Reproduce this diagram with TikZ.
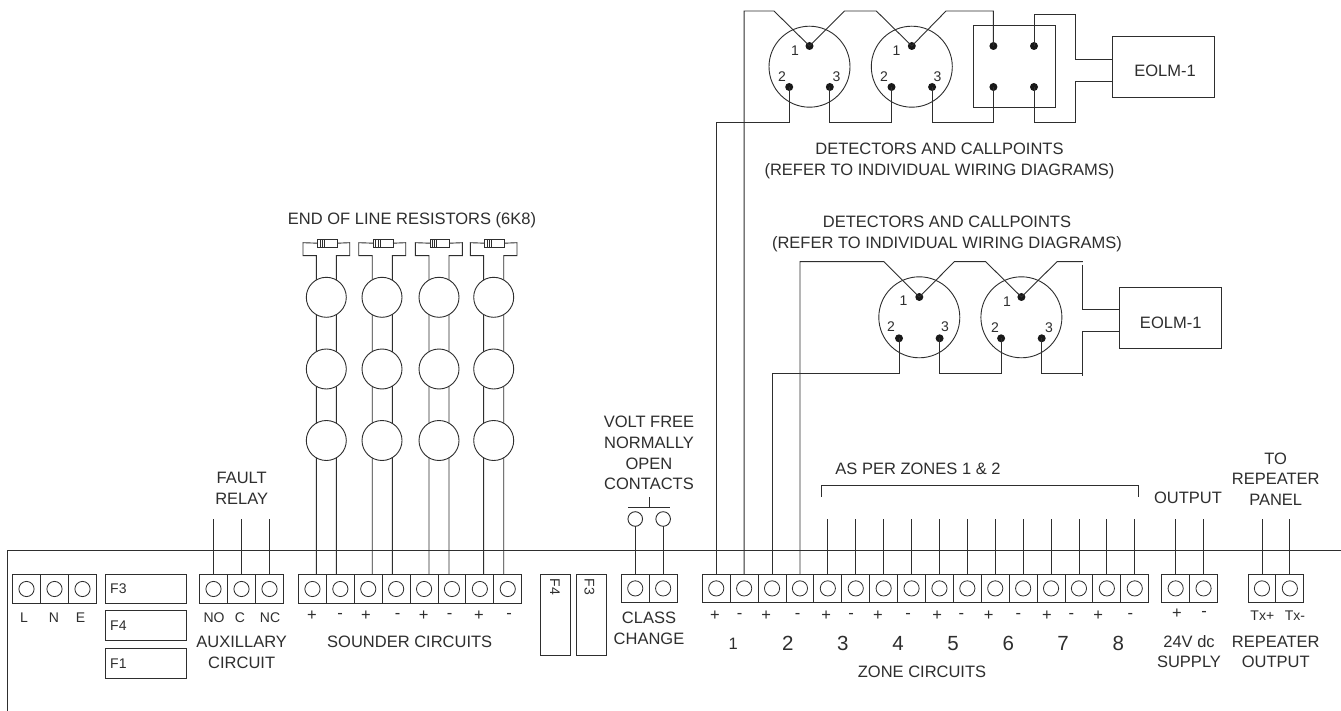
\documentclass[tikz,border=0pt]{standalone}
\usepackage{fontspec}
\setmainfont{Liberation Sans}
\usetikzlibrary{positioning}
\definecolor{ink}{HTML}{2E2E2E}
\tikzset{
	wire/.style={draw=ink, line width=0.9pt},
	cell/.style={
		rectangle, draw=ink, line width=0.9pt,
		minimum width=27.9pt, minimum height=28.4pt, inner sep=0pt, outer sep=0pt,
		path picture={\draw[ink, line width=0.8pt] (path picture bounding box.center) circle (7.6pt);},
	},
	fuse/.style={
		rectangle, draw=ink, line width=0.9pt, inner sep=0pt, outer sep=0pt,
	},
	bell/.style={
		circle, draw=ink, fill=white, line width=0.9pt, minimum size=40pt, inner sep=0pt, outer sep=0pt,
	},
	head/.style={
		circle, draw=ink, line width=0.9pt, minimum size=81pt, inner sep=0pt, outer sep=0pt,
	},
	contact/.style={
		circle, draw=ink, line width=0.9pt, minimum size=14.6pt, inner sep=0pt, outer sep=0pt,
	},
	dot/.style={
		circle, fill=black!90, minimum size=8pt, inner sep=0pt, outer sep=0pt,
	},
	resistor/.style={
		rectangle, draw=ink, fill=white, line width=0.8pt, minimum width=19.6pt, minimum height=7.7pt,
		inner sep=0pt, outer sep=0pt,
		path picture={
			\foreach \b in {2.4,4.6,6.8}
				\draw[ink, line width=0.9pt] ([xshift=\b pt]path picture bounding box.south west) -- ([xshift=\b pt]path picture bounding box.north west);
		},
	},
	txt/.style={text=ink, font=\fontsize{16.5}{20.7}\selectfont, align=center, inner sep=0pt},
	small/.style={text=ink, font=\fontsize{14}{15}\selectfont, inner sep=0pt},
	sign/.style={text=ink, font=\fontsize{16.5}{17}\selectfont, inner sep=0pt},
	num/.style={text=ink, font=\fontsize{20.5}{22}\selectfont, inner sep=0pt},
}
\begin{document}
\begin{tikzpicture}[x=1pt,y=-1pt]
	\useasboundingbox (0,0) rectangle (1341,711);
	\fill[white] (0,0) rectangle (1341,711);

	% housing
	\coordinate (hl) at (7,711);
	\coordinate (hc) at (7,550.3);
	\coordinate (hr) at (1341,550.3);
	\draw[wire] (hl) -- (hc) -- (hr);

	% terminal blocks
	\foreach \i in {1,2,3} \node[cell] (p\i) at ({12.5+(\i-0.5)*28},589) {};
	\foreach \i in {1,2,3} \node[cell] (a\i) at ({199.5+(\i-0.5)*28},589) {};
	\foreach \i in {1,...,8} \node[cell] (s\i) at ({298.5+(\i-0.5)*27.9},589) {};
	\foreach \i in {1,2} \node[cell] (c\i) at ({621.3+(\i-0.5)*27.9},588.4) {};
	\foreach \i in {1,...,16} \node[cell] (z\i) at ({702.3+(\i-0.5)*27.9},588.4) {};
	\foreach \i in {1,2} \node[cell] (v\i) at ({1161.7+(\i-0.5)*27.9},588.4) {};
	\foreach \i in {1,2} \node[cell] (r\i) at ({1248+(\i-0.5)*27.9},588.4) {};

	% fuses
	\node[fuse, minimum width=80.5pt, minimum height=29.3pt] (f3) at (145.7,588.7) {};
	\node[fuse, minimum width=80.5pt, minimum height=29.6pt] (f4) at (145.7,625.5) {};
	\node[fuse, minimum width=80.5pt, minimum height=29.6pt] (f1) at (145.7,663.2) {};
	\node[small, anchor=west] (f3t) at (110,589) {F3};
	\node[small, anchor=west] (f4t) at (110,626) {F4};
	\node[small, anchor=west] (f1t) at (110,664) {F1};
	\node[fuse, minimum width=30pt, minimum height=81pt] (f4b) at (555.3,614.5) {};
	\node[fuse, minimum width=30pt, minimum height=81pt] (f3b) at (591.3,614.5) {};
	\node[small, rotate=-90] (f4bt) at (555,587) {F4};
	\node[small, rotate=-90] (f3bt) at (589.5,587) {F3};

	% wires above the block
	\foreach \i in {1,2,3} {
		\coordinate (at\i) at (a\i.north |- 0,519);
		\draw[wire] (a\i.north) -- (at\i);
	}
	\foreach \i in {5,...,16} {
		\coordinate (zt\i) at (z\i.north |- 0,519);
		\draw[wire] (z\i.north) -- (zt\i);
	}
	\foreach \i in {1,2} {
		\coordinate (vt\i) at (v\i.north |- 0,519);
		\coordinate (rt\i) at (r\i.north |- 0,519);
		\draw[wire] (v\i.north) -- (vt\i);
		\draw[wire] (r\i.north) -- (rt\i);
	}

	% sounder loops
	\foreach \g/\xa/\xb/\sa/\sb/\lft/\rgt/\rx in {1/316.4/336.4/1/2/303/349.7/327.5,2/372.2/392.3/3/4/358.7/405.7/383.2,3/429/449/5/6/415.3/462.3/439.9,4/483.6/503.7/7/8/470.3/517/494.5} {
		\node[resistor] (res\g) at (\rx,243.2) {};
		\draw[wire] (\xa,0 |- s\sa.north) -- (\xa,255.7) -- (\lft,255.7) -- (\lft,242.7) -- (res\g.west);
		\draw[wire] (\xb,0 |- s\sb.north) -- (\xb,255.7) -- (\rgt,255.7) -- (\rgt,242.7) -- (res\g.east);
	}
	\foreach \g/\x in {1/326.3,2/382,3/439,4/493.7} {
		\node[bell] (b\g a) at (\x,297.3) {};
		\node[bell] (b\g b) at (\x,369) {};
		\node[bell] (b\g c) at (\x,440.5) {};
	}

	% class change contacts
	\foreach \i in {1,2} {
		\node[contact] (k\i) at (c\i.north |- 0,519) {};
		\draw[wire] (c\i.north) -- (k\i.south);
	}
	\coordinate (kl) at (628,507.3);
	\coordinate (kr) at (670,507.3);
	\coordinate (km) at (649,507.3);
	\coordinate (kt) at (649,496.7);
	\draw[wire] (kl) -- (kr);
	\draw[wire] (km) -- (kt);

	% zones 3 to 8 bracket
	\coordinate (bl) at (821.7,496.7);
	\coordinate (bla) at (821.7,485);
	\coordinate (bra) at (1138.7,485);
	\coordinate (br) at (1138.7,496.7);
	\draw[wire] (bl) -- (bla) -- (bra) -- (br);

	% upper detector row
	\node[head] (h1) at (809.5,66.7) {};
	\node[head] (h2) at (911.8,66.7) {};
	\foreach \h/\x in {1/809.5,2/911.8} {
		\node[dot] (h\h p1) at (\x,46) {};
		\node[dot] (h\h p2) at ({\x-20.3},87) {};
		\node[dot] (h\h p3) at ({\x+20.3},87) {};
	}
	\node[fuse, minimum width=82.4pt, minimum height=81.6pt] (base) at (1014.2,66.5) {};
	\node[dot] (t1) at (993.4,46) {};
	\node[dot] (t2) at (1034,46) {};
	\node[dot] (t3) at (993.4,87) {};
	\node[dot] (t4) at (1034,87) {};
	\node[fuse, minimum width=102.8pt, minimum height=61.3pt] (eol1) at (1163.4,66.7) {};
	\node[txt] (eol1t) at (1165,71) {EOLM-1};

	\coordinate (up) at (0,11);
	\coordinate (low) at (0,122.7);
	\coordinate (eu) at (1075.3,14);
	\coordinate (el) at (1075.3,122.7);
	\draw[wire] (z2.north) -- (z2.north |- up) -- (774,11) -- (h1p1.center) -- (844.6,11) -- (876.3,11) -- (h2p1.center) -- (946,11) -- (t1 |- up) -- (t1.center);
	\draw[wire] (z1.north) -- (z1.north |- low) -| (h1p2.center);
	\draw[wire] (h1p3.center) -- (h1p3 |- low) -| (h2p2.center);
	\draw[wire] (h2p3.center) -- (h2p3 |- low) -| (t3.center);
	\draw[wire] (t2.center) -- (t2 |- eu) -- (eu) -- (1075.3,59) -- (eol1.west |- 0,59);
	\draw[wire] (t4.center) -- (t4 |- el) -- (el) -- (1075.3,81) -- (eol1.west |- 0,81);

	% lower detector row
	\node[head] (g1) at (919.3,317.3) {};
	\node[head] (g2) at (1021.4,317.3) {};
	\foreach \h/\x in {1/919.3,2/1021.4} {
		\node[dot] (g\h p1) at (\x,297) {};
		\node[dot] (g\h p2) at ({\x-20.3},338.3) {};
		\node[dot] (g\h p3) at ({\x+20.3},338.3) {};
	}
	\node[fuse, minimum width=102.5pt, minimum height=61pt] (eol2) at (1170.5,317.5) {};
	\node[txt] (eol2t) at (1170.7,323.3) {EOLM-1};

	\coordinate (upb) at (0,261.7);
	\coordinate (lowb) at (0,373.3);
	\coordinate (ge) at (1082.9,261.7);
	\coordinate (gf) at (1082.9,375.5);
	\draw[wire] (z4.north) -- (z4.north |- upb) -- (884,261.7) -- (g1p1.center) -- (954.3,261.7) -- (985.7,261.7) -- (g2p1.center) -- (1057,261.7) -- (ge);
	\draw[wire] (z3.north) -- (z3.north |- lowb) -| (g1p2.center);
	\draw[wire] (g1p3.center) -- (g1p3 |- lowb) -| (g2p2.center);
	\draw[wire] (g2p3.center) -- (g2p3 |- lowb) -- (1082.9,373.3);
	\draw[wire] (1082.9,265) -- (1082.9,309.3) -- (eol2.west |- 0,309.3);
	\draw[wire] (gf) -- (1082.9,331.7) -- (eol2.west |- 0,331.7);

	% pin numbers
	\foreach \n/\t/\x/\y in {a/1/795/50.7,b/2/782/76.7,c/3/836.4/76.7,d/1/896.6/50.7,e/2/884/76.7,f/3/937.6/76.7,g/1/903.6/300.7,h/2/891/326.7,i/3/945/326.7,j/1/1007/301.7,k/2/995/327.3,l/3/1049/327.3}
		\node[small] (pn\n) at (\x,\y) {\t};

	% terminal marks
	\foreach \n/\t/\x in {a/L/24,b/N/54,c/E/80.5,d/NO/214,e/C/240,f/NC/270}
		\node[small] (tm\n) at (\x,618) {\t};
	\foreach \n/\t/\x in {a/+/312,b/-/340,c/+/366,d/-/397.6,e/+/423.6,f/-/449.6,g/+/479,h/-/509,i/+/715,j/-/739.7,k/+/766.3,l/-/797.7,m/+/826.3,n/-/851,o/+/878,p/-/908,q/+/937.3,r/-/961.3,s/+/988.7,t/-/1018.3,u/+/1047,v/-/1071.3,w/+/1098.3,x/-/1130.3}
		\node[sign] (pm\n) at (\x,616) {\t};
	\node[sign] (pmy) at (1177,614) {+};
	\node[sign] (pmz) at (1204,614) {-};
	\node[small] (txp) at (1262.3,616) {Tx+};
	\node[small] (txm) at (1295,616) {Tx-};

	% zone numbers
	\node[sign] (zn1) at (733.3,643.5) {1};
	\foreach \t/\x in {2/787.7,3/842.7,4/898,5/953,6/1008.3,7/1063,8/1118.3}
		\node[num] (zn\t) at (\x,643.5) {\t};

	% captions
	\node[txt] (capa) at (241.7,652.5) {AUXILLARY\\CIRCUIT};
	\node[txt] (capb) at (409.7,642) {SOUNDER CIRCUITS};
	\node[txt] (capc) at (649,628.3) {CLASS\\CHANGE};
	\node[txt] (capd) at (922,672) {ZONE CIRCUITS};
	\node[txt] (cape) at (1189,651.5) {24V dc\\SUPPLY};
	\node[txt] (capf) at (1275.7,652) {REPEATER\\OUTPUT};
	\node[txt] (capg) at (241.7,488.5) {FAULT\\RELAY};
	\node[txt] (caph) at (412,220.7) {END OF LINE RESISTORS (6K8)};
	\node[txt] (capi) at (649,453) {VOLT FREE\\NORMALLY\\OPEN\\CONTACTS};
	\node[txt] (capj) at (918,469) {AS PER ZONES 1 \& 2};
	\node[txt] (capk) at (1188,498) {OUTPUT};
	\node[txt] (capl) at (1275.7,479) {TO\\REPEATER\\PANEL};
	\node[txt] (capm) at (939.5,161) {DETECTORS AND CALLPOINTS\\[1pt](REFER TO INDIVIDUAL WIRING DIAGRAMS)};
	\node[txt] (capn) at (947,234) {DETECTORS AND CALLPOINTS\\[1pt](REFER TO INDIVIDUAL WIRING DIAGRAMS)};
\end{tikzpicture}
\end{document}
